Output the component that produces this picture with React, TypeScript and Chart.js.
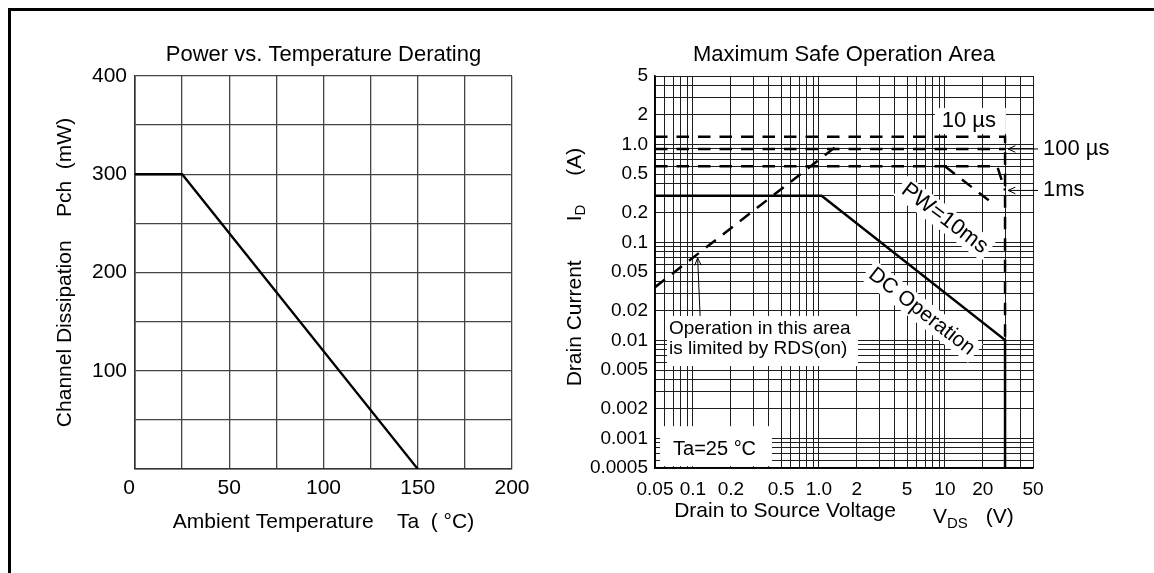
import React, { useEffect, useRef } from 'react';
import { Chart, registerables } from 'chart.js';

Chart.register(...registerables);

const FONT = "'Liberation Sans', Arial, Helvetica, sans-serif";

// ---------- Left chart: Power vs. Temperature Derating ----------
const tempX = [0, 25, 150];
const powerY = [300, 300, 0];
const tempTickLabels = [0, 50, 100, 150, 200];
const powerTickLabels = [100, 200, 300, 400];

// ---------- Right chart: Maximum Safe Operation Area ----------
const vdsTicks = [0.05, 0.1, 0.2, 0.5, 1, 2, 5, 10, 20, 50];
const vdsTickText = ['0.05', '0.1', '0.2', '0.5', '1.0', '2', '5', '10', '20', '50'];
const idTicks = [5, 2, 1, 0.5, 0.2, 0.1, 0.05, 0.02, 0.01, 0.005, 0.002, 0.001, 0.0005];
const idTickText = ['5', '2', '1.0', '0.5', '0.2', '0.1', '0.05', '0.02', '0.01', '0.005', '0.002', '0.001', '0.0005'];

const dcX = [0.05, 1.05, 30, 30];
const dcY = [0.3, 0.3, 0.0101, 0.0005];
const rdsX = [0.05, 1.42];
const rdsY = [0.035, 0.99];
const us10X = [0.05, 30, 30];
const us10Y = [1.2, 1.2, 0.0101];
const us100X = [0.05, 30];
const us100Y = [0.9, 0.9];
const ms1X = [0.05, 26, 30];
const ms1Y = [0.6, 0.6, 0.34];
const ms10X = [10, 24];
const ms10Y = [0.6, 0.25];

const pts = (xs: number[], ys: number[]) => xs.map((x, i) => ({ x, y: ys[i] }));

function logGrid(min: number, max: number): number[] {
  const out: number[] = [];
  for (let e = -5; e <= 3; e++) {
    for (let m = 1; m <= 9; m++) {
      const v = parseFloat((m * Math.pow(10, e)).toPrecision(6));
      if (v >= min * 0.999999 && v <= max * 1.000001) out.push(v);
    }
  }
  return out;
}

const near = (a: number, b: number) => Math.abs(a - b) <= Math.abs(b) * 1e-6;

function labelFor(v: number, vals: number[], texts: string[]) {
  const i = vals.findIndex((t) => near(v, t));
  return i >= 0 ? texts[i] : '';
}

function drawArrow(ctx: CanvasRenderingContext2D, tx: number, ty: number, fx: number, fy: number) {
  const a = Math.atan2(fy - ty, fx - tx);
  const L = 8;
  const sp = 0.42;
  ctx.beginPath();
  ctx.moveTo(fx, fy);
  ctx.lineTo(tx, ty);
  ctx.moveTo(tx + L * Math.cos(a + sp), ty + L * Math.sin(a + sp));
  ctx.lineTo(tx, ty);
  ctx.lineTo(tx + L * Math.cos(a - sp), ty + L * Math.sin(a - sp));
  ctx.stroke();
}

const soaPlugin = {
  id: 'soaAnnotations',
  beforeDatasetsDraw(chart: any) {
    const { ctx } = chart;
    const xs = chart.scales.x;
    const ys = chart.scales.y;
    ctx.save();
    ctx.fillStyle = '#000';

    const boxed = (
      vx: number, vy: number, lines: string[], size: number, angle: number,
      align: CanvasTextAlign, rect: number[] | null, lineGap = 20,
    ) => {
      const px = xs.getPixelForValue(vx);
      const py = ys.getPixelForValue(vy);
      ctx.save();
      ctx.translate(px, py);
      ctx.rotate((angle * Math.PI) / 180);
      ctx.font = `${size}px ${FONT}`;
      let r = rect;
      if (!r) {
        const w = ctx.measureText(lines[0]).width;
        r = [-w / 2 - 4, -12, w + 8, 24];
      }
      ctx.fillStyle = '#fff';
      ctx.fillRect(r[0], r[1], r[2], r[3]);
      ctx.fillStyle = '#000';
      ctx.textAlign = align;
      ctx.textBaseline = 'middle';
      const n = lines.length;
      lines.forEach((t, i) => {
        ctx.fillText(t, 0, (i - (n - 1) / 2) * lineGap);
      });
      ctx.restore();
    };

    boxed(15.5, 1.72, ['10 µs'], 22, 0, 'center', [-34, -13.5, 71, 26]);
    boxed(9.93, 0.176, ['PW=10ms'], 22, 37, 'center', null);
    boxed(6.54, 0.0197, ['DC Operation'], 21, 38, 'center', null);
    boxed(0.0646, 0.01047, ['Operation in this area', 'is limited by RDS(on)'], 19, 0, 'left', [-2, -22.5, 191, 50], 20);
    boxed(0.0695, 0.000778, ['Ta=25 °C'], 20, 0, 'left', [-13, -23, 112, 40]);
    ctx.restore();
  },
  afterDatasetsDraw(chart: any) {
    const { ctx, chartArea } = chart;
    const xs = chart.scales.x;
    const ys = chart.scales.y;
    ctx.save();
    ctx.strokeStyle = '#000';
    ctx.fillStyle = '#000';
    ctx.lineWidth = 1;

    // RDS(on) arrow
    drawArrow(ctx,
      xs.getPixelForValue(0.109), ys.getPixelForValue(0.0695),
      xs.getPixelForValue(0.114), ys.getPixelForValue(0.0178));

    // 100 µs and 1ms callouts
    const callout = (vx: number, vy: number, text: string) => {
      const tx = xs.getPixelForValue(vx) + 3;
      const ty = ys.getPixelForValue(vy);
      drawArrow(ctx, tx, ty, tx + 30, ty);
      ctx.font = `22px ${FONT}`;
      ctx.textAlign = 'left';
      ctx.textBaseline = 'middle';
      ctx.fillText(text, tx + 35, ty);
    };
    callout(30, 0.9, '100 µs');
    callout(30, 0.34, '1ms');

    // X axis title with subscript
    const cx = (chartArea.left + chartArea.right) / 2;
    const base = chartArea.bottom + 49;
    ctx.textBaseline = 'alphabetic';
    ctx.textAlign = 'left';
    const xParts = [
      { t: 'Drain to Source Voltage', s: 21, dy: 0, gap: 37 },
      { t: 'V', s: 21, dy: 6, gap: 0 },
      { t: 'DS', s: 15, dy: 11, gap: 18 },
      { t: '(V)', s: 21, dy: 6, gap: 0 },
    ];
    let total = 0;
    xParts.forEach((p) => { ctx.font = `${p.s}px ${FONT}`; total += ctx.measureText(p.t).width + p.gap; });
    let x0 = cx - total / 2;
    xParts.forEach((p) => {
      ctx.font = `${p.s}px ${FONT}`;
      ctx.fillText(p.t, x0, base + p.dy);
      x0 += ctx.measureText(p.t).width + p.gap;
    });

    // Y axis title with subscript (rotated)
    const cy = (chartArea.top + chartArea.bottom) / 2 - 5;
    ctx.save();
    ctx.translate(chartArea.left - 80, cy);
    ctx.rotate(-Math.PI / 2);
    ctx.textBaseline = 'middle';
    const yParts = [
      { t: 'Drain Current', s: 21, dy: 0, gap: 39 },
      { t: 'I', s: 21, dy: 0, gap: 0 },
      { t: 'D', s: 15, dy: 6, gap: 29 },
      { t: '(A)', s: 21, dy: 0, gap: 0 },
    ];
    let ytotal = 0;
    yParts.forEach((p) => { ctx.font = `${p.s}px ${FONT}`; ytotal += ctx.measureText(p.t).width + p.gap; });
    let y0 = -ytotal / 2;
    yParts.forEach((p) => {
      ctx.font = `${p.s}px ${FONT}`;
      ctx.fillText(p.t, y0, p.dy);
      y0 += ctx.measureText(p.t).width + p.gap;
    });
    ctx.restore();
    ctx.restore();
  },
};

const LEFT_W = 529;
const RIGHT_W = 614;
const CANVAS_H = 562;

export default function App() {
  const leftRef = useRef<HTMLCanvasElement | null>(null);
  const rightRef = useRef<HTMLCanvasElement | null>(null);

  useEffect(() => {
    if (!leftRef.current || !rightRef.current) return;
    const titleFont = { family: FONT, size: 22, weight: 'normal' as const, lineHeight: 1 };

    const left = new Chart(leftRef.current, {
      type: 'scatter',
      data: {
        datasets: [
          {
            data: pts(tempX, powerY),
            showLine: true,
            borderColor: '#000',
            borderWidth: 2.3,
            pointRadius: 0,
            fill: false,
          },
        ],
      },
      options: {
        responsive: false,
        animation: false,
        devicePixelRatio: 1,
        layout: { padding: { left: 43.5, right: 28, top: 33, bottom: 40 } },
        plugins: {
          legend: { display: false },
          tooltip: { enabled: false },
          title: {
            display: true,
            text: 'Power vs. Temperature Derating',
            color: '#000',
            font: titleFont,
            padding: { top: 0, bottom: 10 },
            fullSize: false,
          },
        },
        scales: {
          x: {
            type: 'linear',
            min: 0,
            max: 200,
            ticks: {
              stepSize: 25,
              autoSkip: false,
              maxRotation: 0,
              minRotation: 0,
              padding: 7,
              color: '#000',
              font: { family: FONT, size: 21 },
              callback: (v: any) => (tempTickLabels.includes(Number(v)) ? (Number(v) === 0 ? '0  ' : String(v)) : ''),
            },
            grid: { color: '#444', lineWidth: 1.3, drawTicks: false },
            border: { color: '#333', width: 1.6 },
            title: {
              display: true,
              text: 'Ambient Temperature    Ta  ( °C)',
              color: '#000',
              font: { family: FONT, size: 21, lineHeight: 1 },
              padding: { top: 0, bottom: 0 },
            },
            afterFit: (s: any) => { s.height = 64; },
          },
          y: {
            type: 'linear',
            min: 0,
            max: 400,
            ticks: {
              stepSize: 50,
              autoSkip: false,
              padding: 8,
              color: '#000',
              font: { family: FONT, size: 21 },
              callback: (v: any) => (powerTickLabels.includes(Number(v)) ? String(v) : ''),
            },
            grid: { color: '#444', lineWidth: 1.3, drawTicks: false },
            border: { color: '#333', width: 1.6 },
            title: {
              display: true,
              text: 'Channel Dissipation    Pch  (mW)',
              color: '#000',
              font: { family: FONT, size: 21, lineHeight: 1 },
              padding: { top: 0, bottom: 0 },
            },
            afterFit: (s: any) => { s.width = 80.5; },
          },
        },
      },
    } as any);

    const xGrid = logGrid(0.05, 50);
    const yGrid = logGrid(0.0005, 5);
    const dashed = { borderDash: [12.5, 9], borderWidth: 2.5, borderColor: '#000', pointRadius: 0, showLine: true, fill: false };

    const right = new Chart(rightRef.current, {
      type: 'scatter',
      data: {
        datasets: [
          { data: pts(dcX, dcY), showLine: true, borderColor: '#000', borderWidth: 2.5, pointRadius: 0, fill: false },
          { data: pts(rdsX, rdsY), ...dashed },
          { data: pts(us10X, us10Y), ...dashed },
          { data: pts(us100X, us100Y), ...dashed },
          { data: pts(ms1X, ms1Y), ...dashed },
          { data: pts(ms10X, ms10Y), ...dashed },
        ],
      },
      options: {
        responsive: false,
        animation: false,
        devicePixelRatio: 1,
        layout: { padding: { left: 40, right: 121, top: 33, bottom: 45 } },
        plugins: {
          legend: { display: false },
          tooltip: { enabled: false },
          title: {
            display: true,
            text: 'Maximum Safe Operation Area',
            color: '#000',
            font: titleFont,
            padding: { top: 0, bottom: 10 },
            fullSize: false,
          },
        },
        scales: {
          x: {
            type: 'logarithmic',
            min: 0.05,
            max: 50,
            afterBuildTicks: (s: any) => { s.ticks = xGrid.map((v) => ({ value: v })); },
            ticks: {
              autoSkip: false,
              maxRotation: 0,
              minRotation: 0,
              padding: 10,
              color: '#000',
              font: { family: FONT, size: 19 },
              callback: (v: any) => labelFor(Number(v), vdsTicks, vdsTickText),
            },
            grid: { color: '#1e1e1e', lineWidth: 1, drawTicks: false },
            border: { color: '#000', width: 1.6 },
            afterFit: (s: any) => { s.height = 60; },
          },
          y: {
            type: 'logarithmic',
            min: 0.0005,
            max: 5,
            afterBuildTicks: (s: any) => { s.ticks = yGrid.map((v) => ({ value: v })); },
            ticks: {
              autoSkip: false,
              padding: 7,
              color: '#000',
              font: { family: FONT, size: 19 },
              callback: (v: any) => labelFor(Number(v), idTicks, idTickText),
            },
            grid: { color: '#1e1e1e', lineWidth: 1, drawTicks: false },
            border: { color: '#000', width: 1.6 },
            afterFit: (s: any) => { s.width = 75; },
          },
        },
      },
      plugins: [soaPlugin],
    } as any);

    return () => {
      left.destroy();
      right.destroy();
    };
  }, []);

  return (
    <div
      style={{
        position: 'fixed',
        left: 8,
        top: 8,
        width: 1146,
        height: 565,
        boxSizing: 'border-box',
        borderTop: '3px solid #000',
        borderLeft: '3px solid #000',
        background: '#fff',
        overflow: 'hidden',
      }}
    >
      <canvas
        ref={leftRef}
        width={LEFT_W}
        height={CANVAS_H}
        style={{ position: 'absolute', left: 0, top: 0, width: LEFT_W, height: CANVAS_H }}
      />
      <canvas
        ref={rightRef}
        width={RIGHT_W}
        height={CANVAS_H}
        style={{ position: 'absolute', left: LEFT_W, top: 0, width: RIGHT_W, height: CANVAS_H }}
      />
    </div>
  );
}
